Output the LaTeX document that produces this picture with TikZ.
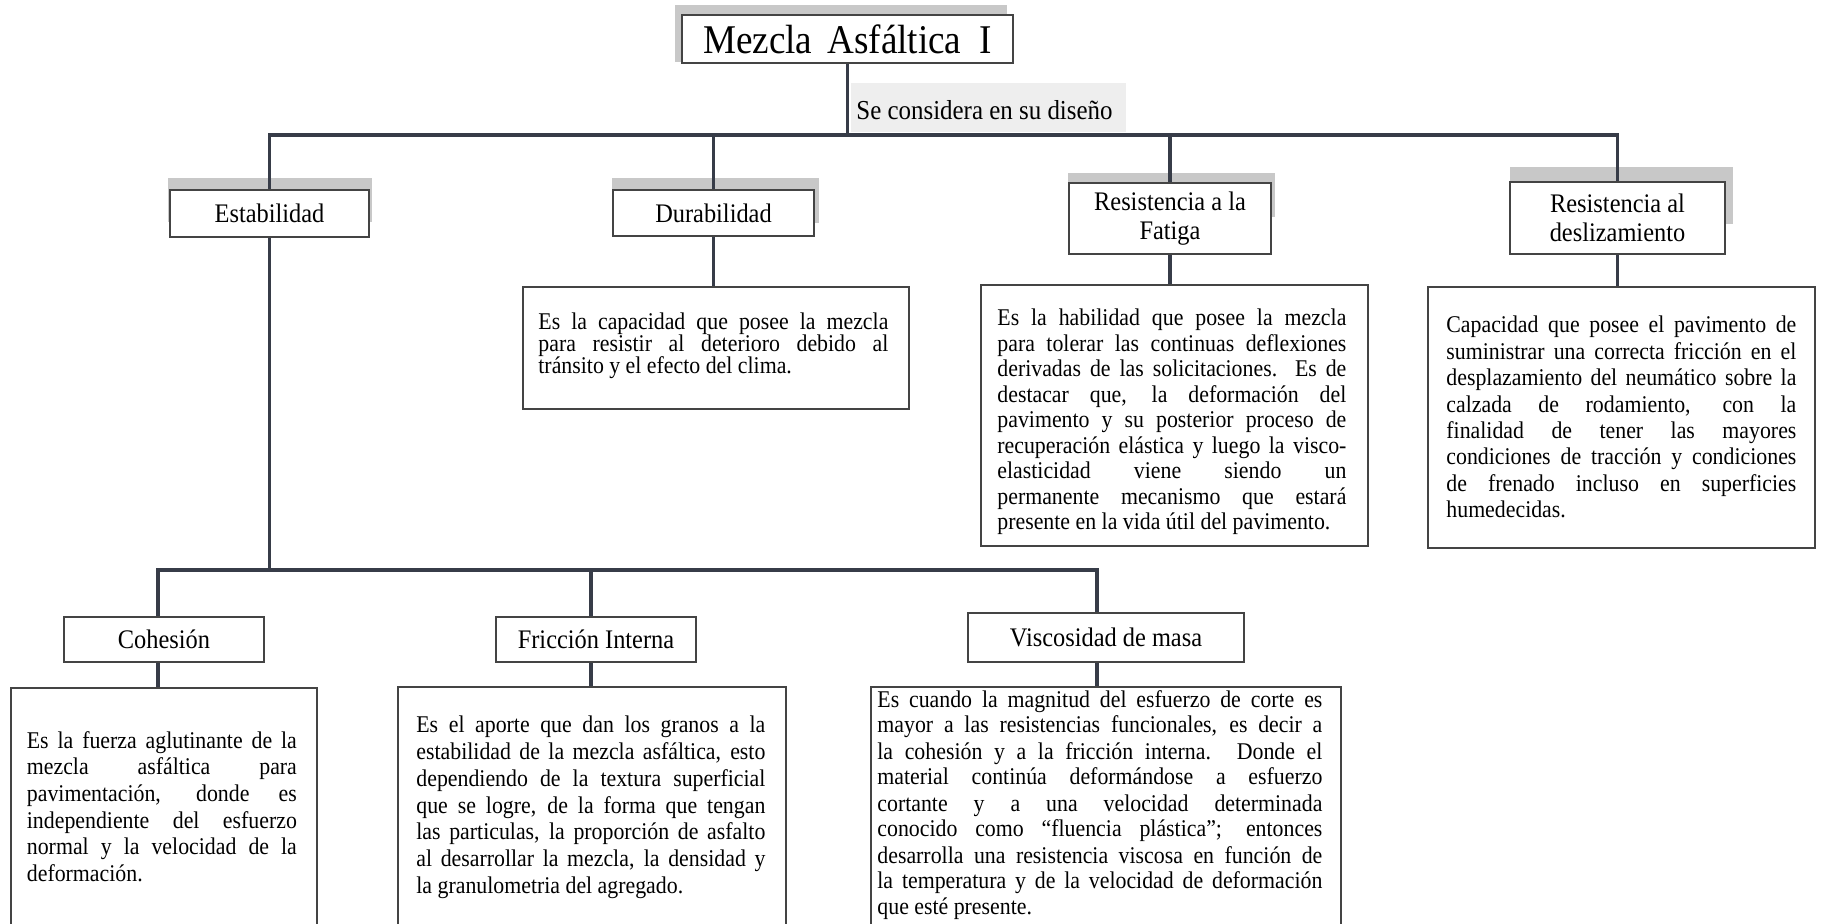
\documentclass[tikz,border=0pt]{standalone}
\usepackage{fontspec}
\setmainfont{Liberation Serif}[FakeStretch=0.91]
\usetikzlibrary{fit}

\pgfdeclarelayer{shade}
\pgfdeclarelayer{wires}
\pgfsetlayers{shade,wires,main}

\definecolor{wire}{RGB}{55,60,72}
\definecolor{edge}{RGB}{68,68,68}
\definecolor{shadowgray}{RGB}{200,200,200}
\definecolor{notegray}{RGB}{238,238,238}

% justified line of a fixed width, and a paragraph of such lines
\newlength\jw
\newcommand\J[1]{\makebox[\jw][s]{#1}}
\newcommand\para[3]{\setlength\jw{#1}\parbox[t]{\jw}{\fontsize{12}{#2}\selectfont\lineskiplimit=-20pt\relax #3}}

\begin{document}
\begin{tikzpicture}[x=0.5pt,y=-0.5pt,
  tbox/.style={draw=edge, line width=1pt, fill=white, inner sep=0pt, align=center},
  headbox/.style={tbox, font=\fontsize{13.4}{14.5}\selectfont},
  descbox/.style={draw=edge, line width=1pt, fill=white, inner sep=0pt},
  dtext/.style={anchor=base west, inner sep=0pt},
  wirestyle/.style={draw=wire, line width=1.6pt, line join=miter},
]
\useasboundingbox (0,0) rectangle (1821,924);

% ---------- boxes ----------
\node[tbox, minimum width=165.5pt, minimum height=24pt, font=\fontsize{20.4}{22}\selectfont]
  (title) at (847.5,39) {Mezcla\hspace{7.5pt}Asfáltica\hspace{9pt}I};
\node[dtext, font=\fontsize{13.7}{15}\selectfont] (cons) at (856,120) {Se considera en su diseño};

\node[headbox, minimum width=99.5pt, minimum height=23.5pt] (est) at (269.5,213.5) {Estabilidad};
\node[headbox, minimum width=100.5pt, minimum height=23pt] (dur) at (713.5,213) {Durabilidad};
\node[headbox, minimum width=101pt, minimum height=35.5pt] (fat) at (1170,218.5) {Resistencia a la\\Fatiga};
\node[headbox, minimum width=107.5pt, minimum height=36pt] (des) at (1617.5,218) {Resistencia al\\deslizamiento};

\node[headbox, minimum width=100pt, minimum height=22.5pt] (coh) at (164,639.5) {Cohesión};
\node[headbox, minimum width=100pt, minimum height=22.5pt] (fri) at (596,639.5) {Fricción Interna};
\node[headbox, minimum width=138pt, minimum height=24.5pt] (vis) at (1106,637.5) {Viscosidad de masa};

\node[descbox, fit={(523,287) (909,409)}] (ddur) {};
\node[descbox, fit={(981,285) (1368,546)}] (dfat) {};
\node[descbox, fit={(1428,287) (1815,548)}] (ddes) {};
\node[descbox, fit={(11,688) (317,944)}] (dcoh) {};
\node[descbox, fit={(398,687) (786,944)}] (dfri) {};
\node[descbox, fit={(871,687) (1341,944)}] (dvis) {};

% ---------- descriptions ----------
\node[dtext] (tdur) at (538,330) {\para{175pt}{10.85pt}{%
\J{Es la capacidad que posee la mezcla}\\
\J{para resistir al deterioro debido al}\\
tránsito y el efecto del clima.}};

\node[dtext] (tfat) at (997,326) {\para{174.5pt}{12.75pt}{%
\J{Es la habilidad que posee la mezcla}\\
\J{para tolerar las continuas deflexiones}\\
\J{derivadas de las solicitaciones. Es de}\\
\J{destacar que, la deformación del}\\
\J{pavimento y su posterior proceso de}\\
\J{recuperación elástica y luego la visco-}\\
\J{elasticidad viene siendo un}\\
\J{permanente mecanismo que estará}\\
presente en la vida útil del pavimento.}};

\node[dtext] (tdes) at (1446,333) {\para{175pt}{13.2pt}{%
\J{Capacidad que posee el pavimento de}\\
\J{suministrar una correcta fricción en el}\\
\J{desplazamiento del neumático sobre la}\\
\J{calzada de rodamiento, con la}\\
\J{finalidad de tener las mayores}\\
\J{condiciones de tracción y condiciones}\\
\J{de frenado incluso en superficies}\\
humedecidas.}};

\node[dtext] (tcoh) at (26.5,748) {\para{135pt}{13.35pt}{%
\J{Es la fuerza aglutinante de la}\\
\J{mezcla asfáltica para}\\
\J{pavimentación, donde es}\\
\J{independiente del esfuerzo}\\
\J{normal y la velocidad de la}\\
deformación.}};

\node[dtext] (tfri) at (416,733) {\para{174.5pt}{13.35pt}{%
\J{Es el aporte que dan los granos a la}\\
\J{estabilidad de la mezcla asfáltica, esto}\\
\J{dependiendo de la textura superficial}\\
\J{que se logre, de la forma que tengan}\\
\J{las particulas, la proporción de asfalto}\\
\J{al desarrollar la mezcla, la densidad y}\\
la granulometria del agregado.}};

\node[dtext] (tvis) at (877,707) {\para{222.5pt}{13pt}{%
\J{Es cuando la magnitud del esfuerzo de corte es}\\
\J{mayor a las resistencias funcionales, es decir a}\\
\J{la cohesión y a la fricción interna. Donde el}\\
\J{material continúa deformándose a esfuerzo}\\
\J{cortante y a una velocidad determinada}\\
\J{conocido como “fluencia plástica”; entonces}\\
\J{desarrolla una resistencia viscosa en función de}\\
\J{la temperatura y de la velocidad de deformación}\\
que esté presente.}};

% ---------- shadows and backgrounds ----------
\begin{pgfonlayer}{shade}
  \fill[white] (0,0) rectangle (1821,924);
  \fill[shadowgray] (675,5) rectangle (1007,62);
  \fill[shadowgray] (168,178) rectangle (372,222);
  \fill[shadowgray] (612,178) rectangle (819,223);
  \fill[shadowgray] (1068,173) rectangle (1275,217);
  \fill[shadowgray] (1510,167) rectangle (1733,224);
  \fill[notegray] (851,83) rectangle (1126,132);
\end{pgfonlayer}

% ---------- connectors ----------
\coordinate (b1) at (0,135);
\coordinate (k1) at (158,570);
\coordinate (k2) at (591,570);
\coordinate (k3) at (1097,570);
\begin{pgfonlayer}{wires}
  \draw[wirestyle] (title.south) -- (title.south |- b1);
  \draw[wirestyle] (est.north) -- (est.north |- b1) -- (des.north |- b1) -- (des.north);
  \draw[wirestyle] (dur.north) -- (dur.north |- b1);
  \draw[wirestyle] (fat.north) -- (fat.north |- b1);
  \draw[wirestyle] (dur.south) -- (dur.south |- ddur.north);
  \draw[wirestyle] (fat.south) -- (fat.south |- dfat.north);
  \draw[wirestyle] (des.south) -- (des.south |- ddes.north);
  \draw[wirestyle] (est.south) -- (est.south |- k1);
  \draw[wirestyle] (k1 |- coh.north) -- (k1) -- (k3) -- (k3 |- vis.north);
  \draw[wirestyle] (k2) -- (k2 |- fri.north);
  \draw[wirestyle] (k1 |- coh.south) -- (k1 |- dcoh.north);
  \draw[wirestyle] (k2 |- fri.south) -- (k2 |- dfri.north);
  \draw[wirestyle] (k3 |- vis.south) -- (k3 |- dvis.north);
\end{pgfonlayer}
\end{tikzpicture}
\end{document}
